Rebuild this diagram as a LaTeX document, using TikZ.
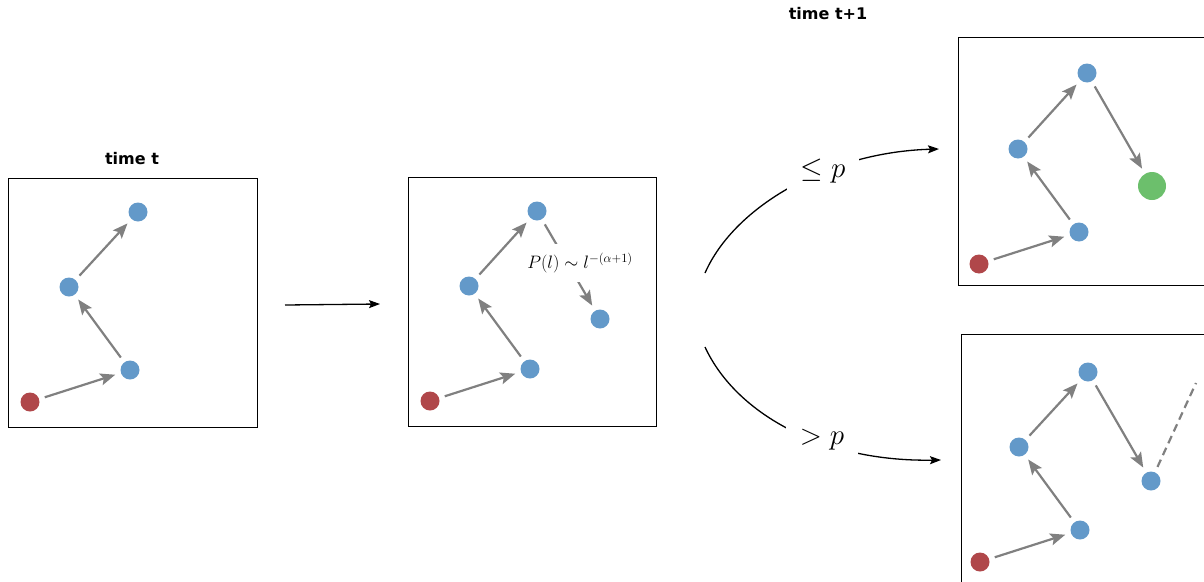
\RequirePackage{fix-cm}
\documentclass[tikz,border=0pt]{standalone}
\usepackage{amsmath}
\usepackage{fontspec}
\newfontfamily\titlefont{DejaVu Sans}
\usetikzlibrary{arrows.meta}
\definecolor{dotblue}{HTML}{6399C9}
\definecolor{dotred}{HTML}{B0474A}
\definecolor{dotgreen}{HTML}{6CBF6C}
\tikzstyle{hop} = [draw=gray, line width=2.2pt, -{Stealth[length=15pt,width=12pt,inset=3pt]}, shorten <=6pt, shorten >=6pt]
\tikzstyle{flow} = [draw=black, line width=1.3pt, -{Stealth[length=11pt,width=8pt,inset=2pt]}]

\begin{document}
\begin{tikzpicture}[
        x=1pt, y=-1pt,
        every node/.style={inner sep=0pt, outer sep=0pt},
        site/.style={circle, fill=dotblue, minimum size=19pt},
        start/.style={circle, fill=dotred, minimum size=19pt},
        goal/.style={circle, fill=dotgreen, minimum size=28pt},
        title/.style={font=\titlefont\bfseries\fontsize{16}{19}\selectfont},
        prob/.style={fill=white, font=\fontsize{29}{35}\selectfont, inner xsep=14pt, inner ysep=7pt}
        ]
        \useasboundingbox (0,0) rectangle (1204,581);

        % time t
        \node[title] (tt) at (132,159) {time t};
        \draw[line width=0.8pt] (8,178) rectangle (257,427);
        \node[start] (a0) at (30,402) {};
        \node[site] (a1) at (130,370) {};
        \node[site] (a2) at (69,287) {};
        \node[site] (a3) at (138,212) {};
        \draw[hop] (a0) -- (a1);
        \draw[hop] (a1) -- (a2);
        \draw[hop] (a2) -- (a3);

        \coordinate (m0) at (285,305);
        \coordinate (m1) at (380,304);
        \draw[flow] (m0) -- (m1);

        % jump drawn from P(l)
        \draw[line width=0.8pt] (408,177) rectangle (656,426);
        \node[start] (b0) at (430,401) {};
        \node[site] (b1) at (530,369) {};
        \node[site] (b2) at (469,286) {};
        \node[site] (b3) at (537,211) {};
        \node[site] (b4) at (600,319) {};
        \draw[hop] (b0) -- (b1);
        \draw[hop] (b1) -- (b2);
        \draw[hop] (b2) -- (b3);
        \draw[hop] (b3) -- (b4);
        \node[fill=white, inner xsep=2pt, inner ysep=9pt, font=\fontsize{18}{21}\selectfont] (law) at (580,263) {$P(l) \sim l^{-(\alpha+1)}$};

        % time t+1
        \node[title] (tt1) at (828,14) {time t+1};

        \coordinate (s1) at (705,273);
        \coordinate (e1) at (939,149);
        \draw[flow] (s1) .. controls (735,205) and (830,152) .. (e1);
        \node[prob] (le) at (823,171) {$\leq p$};

        \coordinate (s2) at (705,347);
        \coordinate (e2) at (941,460);
        \draw[flow] (s2) .. controls (735,412) and (820,462) .. (e2);
        \node[prob] (gt) at (822,440) {$> p$};

        % accepted
        \draw[line width=0.8pt] (958,37) rectangle (1208,285);
        \node[start] (c0) at (979,264) {};
        \node[site] (c1) at (1079,232) {};
        \node[site] (c2) at (1018,149) {};
        \node[site] (c3) at (1087,73) {};
        \node[goal] (c4) at (1152,186) {};
        \draw[hop] (c0) -- (c1);
        \draw[hop] (c1) -- (c2);
        \draw[hop] (c2) -- (c3);
        \draw[hop] (c3) -- (c4);

        % rejected
        \draw[line width=0.8pt] (961,334) rectangle (1210,590);
        \node[start] (d0) at (980,562) {};
        \node[site] (d1) at (1080,530) {};
        \node[site] (d2) at (1019,447) {};
        \node[site] (d3) at (1088,372) {};
        \node[site] (d4) at (1151,481) {};
        \coordinate (d5) at (1196,383);
        \draw[hop] (d0) -- (d1);
        \draw[hop] (d1) -- (d2);
        \draw[hop] (d2) -- (d3);
        \draw[hop] (d3) -- (d4);
        \draw[gray, line width=2.2pt, dash pattern=on 8pt off 5pt, shorten <=6pt] (d4) -- (d5);
\end{tikzpicture}
\end{document}
